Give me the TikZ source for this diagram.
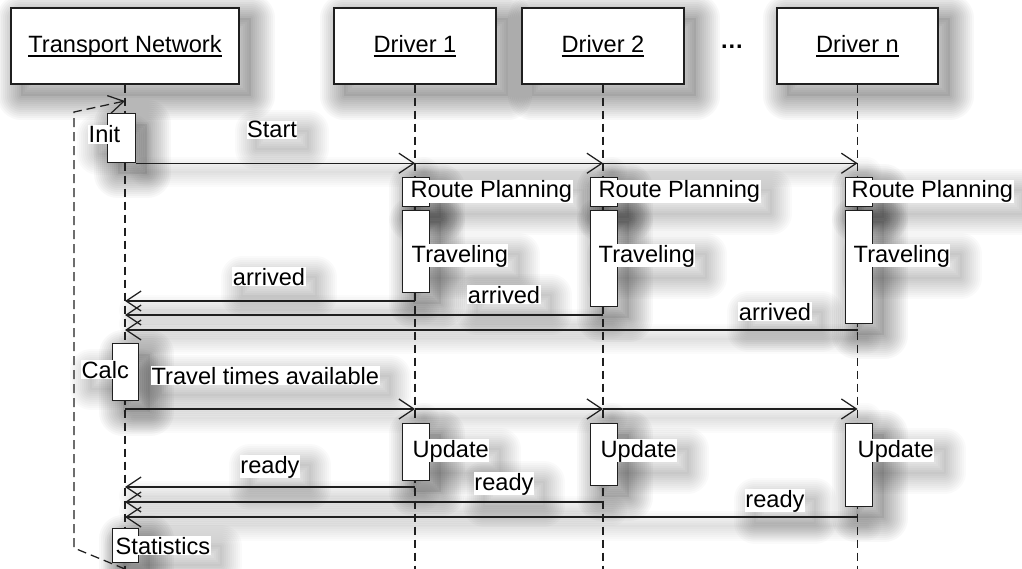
\documentclass[tikz,border=0pt]{standalone}
\usepackage{fontspec}
\setmainfont{Liberation Sans}
\usetikzlibrary{arrows.meta,calc}
\pgfdeclarelayer{paper}
\pgfdeclarelayer{shade}
\pgfsetlayers{paper,shade,main}

% underlined object name, rule crossing the descenders
\newcommand\ulname[1]{\sbox0{#1}\rlap{\rule[-5pt]{\wd0}{1.8pt}}\usebox0}

% soft drop shadow behind a rectangular node: many thin translucent rings
\newcommand\castshade[1]{%
  \fill[black, opacity=0.07, transform canvas={shift={(11pt,-11pt)}}]
    (#1.north west) rectangle (#1.south east);
  \foreach \w in {48,44,...,2}{%
    \draw[black, opacity=0.028, line width=\w pt, line join=round,
          transform canvas={shift={(11pt,-11pt)}}]
      (#1.north west) rectangle (#1.south east);}}

% lighter, more diffuse shadow behind a text label
\newcommand\labelshade[1]{%
  \foreach \w in {42,38,...,2}{%
    \draw[black, opacity=0.02, line width=\w pt, line join=round,
          transform canvas={shift={(10pt,-10pt)}}]
      (#1.north west) rectangle (#1.south east);}}

% message arrow with its soft shadow
\newcommand\msg[2]{%
  \begin{pgfonlayer}{shade}
    \foreach \w in {30,26,...,2}{%
      \draw[black, opacity=0.016, line width=\w pt, line cap=round,
            transform canvas={shift={(9pt,-9pt)}}] #1 -- #2;}
  \end{pgfonlayer}
  \draw[msgline] #1 -- #2;}

\begin{document}
\begin{tikzpicture}[x=1pt, y=-1pt,
  every node/.style={font=\fontsize{23.6pt}{28pt}\selectfont, text=black},
  ink/.style={draw=black!88, line width=1.25pt},
  head/.style={ink, fill=white, minimum width=#1, minimum height=76pt, inner sep=0pt},
  act/.style={ink, fill=white, inner sep=0pt, anchor=north west,
              minimum width=27pt, minimum height=#1},
  lbl/.style={fill=white, inner sep=0.5pt, anchor=base west},
  clbl/.style={fill=white, inner sep=0.5pt, anchor=base},
  life/.style={draw=black!88, line width=1.25pt, dash pattern=on 8pt off 5pt},
  msgline/.style={draw=black!88, line width=1.25pt,
                  -{Straight Barb[length=15pt, width=20pt, line width=1.25pt]}},
  looppath/.style={draw=black!88, line width=1.25pt, dash pattern=on 9pt off 5pt,
                  -{Straight Barb[length=15pt, width=18pt, line width=1.25pt]}}
]
\useasboundingbox (0,0) rectangle (1022,569);
\begin{pgfonlayer}{paper}
  \fill[white] (0,0) rectangle (1022,569);
\end{pgfonlayer}

% object headers
\node[head=228pt] (tn) at (125,46) {\ulname{Transport Network}};
\node[head=162pt] (d1) at (415,46) {\ulname{Driver 1}};
\node[head=162pt] (d2) at (603,46) {\ulname{Driver 2}};
\node[head=161pt] (dn) at (857.5,46) {\ulname{Driver n}};
\node[anchor=base] (dots) at (732,49) {\textbf{…}};

% row coordinates
\coordinate (bottom) at (0,569);
\coordinate (a1) at (0,301);
\coordinate (a2) at (0,315);
\coordinate (an) at (0,330);
\coordinate (tt) at (0,409);
\coordinate (r1) at (0,487);
\coordinate (r2) at (0,502);
\coordinate (rn) at (0,517);
\coordinate (lpb) at (74,548);
\coordinate (lpt) at (74,112);
\coordinate (lpin) at (0,101);

% lifelines
\draw[life] (tn.south) -- (tn |- bottom);
\draw[life] (d1.south) -- (d1 |- bottom);
\draw[life] (d2.south) -- (d2 |- bottom);
\draw[life] (dn.south) -- (dn |- bottom);

% repeating loop of the transport network
\draw[looppath] (tn |- bottom) -- (lpb) -- (lpt) -- (tn |- lpin);

% activations
\node[act=49pt, minimum width=28pt] (init) at (107,113) {};
\node[act=29pt] (rp1) at (402,177) {};
\node[act=29pt] (rp2) at (590,177) {};
\node[act=29pt] (rpn) at (845,177) {};
\node[act=82pt] (tr1) at (402,210) {};
\node[act=96pt] (tr2) at (590,210) {};
\node[act=113pt] (trn) at (845,210) {};
\node[act=57pt, minimum width=26pt] (calc) at (112,343) {};
\node[act=57pt] (up1) at (402,423) {};
\node[act=62pt] (up2) at (590,423) {};
\node[act=83pt] (upn) at (845,423) {};
\node[act=34pt, minimum width=26pt] (stat) at (112,528) {};

% start
\msg{(init.south east)}{(d1 |- init.south east)}
\msg{(d1 |- init.south east)}{(d2 |- init.south east)}
\msg{(d2 |- init.south east)}{(dn |- init.south east)}

% arrivals
\msg{(d1 |- a1)}{(tn |- a1)}
\msg{(d2 |- a2)}{(tn |- a2)}
\msg{(dn |- an)}{(tn |- an)}

% travel times available
\msg{(tn |- tt)}{(d1 |- tt)}
\msg{(d1 |- tt)}{(d2 |- tt)}
\msg{(d2 |- tt)}{(dn |- tt)}

% ready
\msg{(d1 |- r1)}{(tn |- r1)}
\msg{(d2 |- r2)}{(tn |- r2)}
\msg{(dn |- rn)}{(tn |- rn)}

% labels
\node[lbl] (linit) at (88,143) {Init};
\node[clbl] (lstart) at (272,138) {Start};
\node[lbl] (lrp1) at (410,198) {Route Planning};
\node[lbl] (lrp2) at (598,198) {Route Planning};
\node[lbl] (lrpn) at (851,198) {Route Planning};
\node[lbl] (ltr1) at (411,262) {Traveling};
\node[lbl] (ltr2) at (598,262) {Traveling};
\node[lbl] (ltrn) at (853,262) {Traveling};
\node[clbl] (larr1) at (269,285) {arrived};
\node[clbl] (larr2) at (504,303) {arrived};
\node[clbl] (larrn) at (775,320) {arrived};
\node[lbl] (lcalc) at (81,378) {Calc};
\node[lbl] (ltt) at (151,384) {Travel times available};
\node[lbl] (lup1) at (412,457) {Update};
\node[lbl] (lup2) at (600,457) {Update};
\node[lbl] (lupn) at (857,457) {Update};
\node[clbl] (lrdy1) at (270,473) {ready};
\node[clbl] (lrdy2) at (504,490) {ready};
\node[clbl] (lrdyn) at (775,507) {ready};
\node[lbl] (lstat) at (115,554) {Statistics};

% shadows behind everything
\begin{pgfonlayer}{shade}
  \foreach \n in {tn,d1,d2,dn,init,rp1,rp2,rpn,tr1,tr2,trn,calc,up1,up2,upn,stat}
    {\castshade{\n}}
  \foreach \n in {linit,lstart,lrp1,lrp2,lrpn,ltr1,ltr2,ltrn,larr1,larr2,larrn,
                  lcalc,ltt,lup1,lup2,lupn,lrdy1,lrdy2,lrdyn,lstat}
    {\labelshade{\n}}
\end{pgfonlayer}
\end{tikzpicture}
\end{document}
